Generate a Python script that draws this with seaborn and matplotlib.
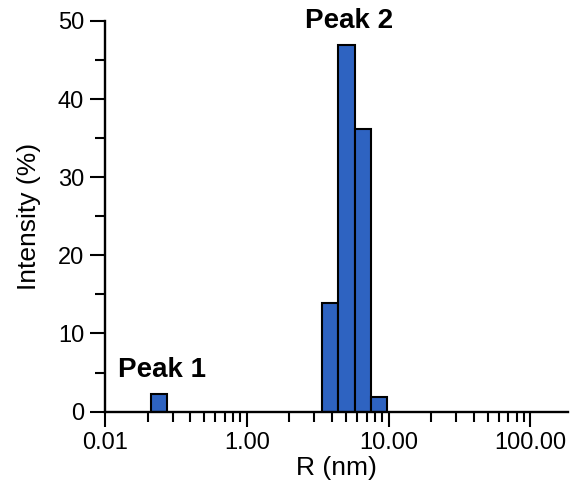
import numpy as np
import pandas as pd
import matplotlib
matplotlib.use("Agg")
import matplotlib.pyplot as plt
from matplotlib.ticker import FixedLocator, NullFormatter, LogLocator, MultipleLocator
import seaborn as sns

# ================= DATA =================
# bin edges (nm) and intensity (%) for each peak
peak1_edges = [0.213, 0.275]
peak1_intensity = [2.3]
peak2_edges = [3.41, 4.43, 5.81, 7.53, 9.79]
peak2_intensity = [13.9, 46.9, 36.2, 1.9]
peak_names = ["Peak 1", "Peak 2"]

x_ticks = [0.1, 1, 10, 100]
x_tick_labels = ["0.01", "1.00", "10.00", "100.00"]
y_ticks = [0, 10, 20, 30, 40, 50]

BAR_COLOR = "#2E63C1"

# ================= STYLE =================
sns.set_style("ticks")
plt.rcParams["font.family"] = ["Liberation Sans", "DejaVu Sans"]
plt.rcParams["axes.labelcolor"] = "black"
plt.rcParams["text.color"] = "black"

fig, ax = plt.subplots(figsize=(5.7, 4.86), dpi=100)
fig.subplots_adjust(left=0.184, right=0.997, bottom=0.153, top=0.957)

# ================= BARS =================
peaks = [(peak1_edges, peak1_intensity), (peak2_edges, peak2_intensity)]
for (edges, inten), name in zip(peaks, peak_names):
    edges = np.array(edges)
    df = pd.DataFrame({"r": np.sqrt(edges[:-1] * edges[1:]), "intensity": inten})
    # log_scale -> seaborn bins in log10 space
    sns.histplot(data=df, x="r", weights="intensity",
                 bins=list(np.log10(edges)), log_scale=True,
                 color=BAR_COLOR, edgecolor="black",
                 linewidth=1.5, alpha=1, ax=ax)
    top = df["intensity"].idxmax()
    ax.annotate(name, xy=(df["r"][top], df["intensity"][top]), xytext=(2, 8),
                textcoords="offset points", ha="center", va="bottom",
                fontsize=20, fontweight="bold")

# ================= AXES =================
ax.set_xlim(0.1, 185)
ax.set_ylim(0, 50)
ax.xaxis.set_major_locator(FixedLocator(x_ticks))
ax.set_xticklabels(x_tick_labels)
ax.xaxis.set_minor_locator(LogLocator(base=10, subs=np.arange(2, 10)))
ax.xaxis.set_minor_formatter(NullFormatter())
ax.set_yticks(y_ticks)
ax.yaxis.set_minor_locator(MultipleLocator(5))

ax.set_xlabel("R (nm)", fontsize=19, labelpad=1)
ax.set_ylabel("Intensity (%)", fontsize=19, labelpad=12)

for s in ["left", "bottom"]:
    ax.spines[s].set_linewidth(1.7)
    ax.spines[s].set_color("black")
sns.despine(ax=ax)
ax.tick_params(which="major", length=11, width=1.5, color="black",
               labelsize=17, labelcolor="black", pad=4)
ax.tick_params(which="minor", length=7, width=1.5, color="black")

fig.savefig("out.png", dpi=100)
